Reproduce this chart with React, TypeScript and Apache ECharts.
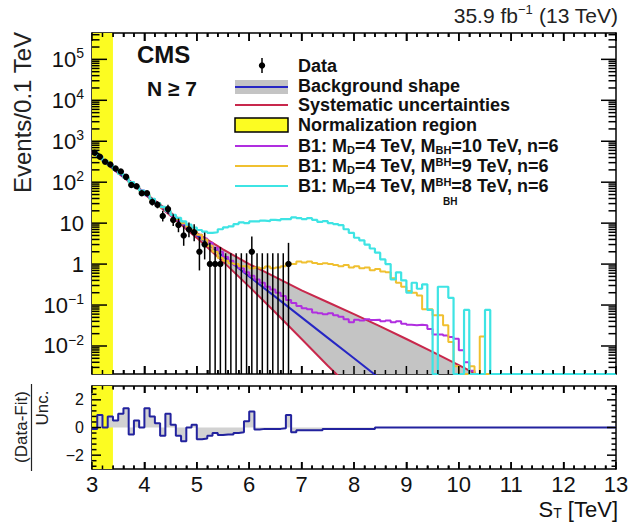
import React, { useEffect, useRef } from "react";
import * as echarts from "echarts";

// ---------- axis ranges / bins ----------
const X_MIN = 3;
const X_MAX = 13;
const Y_MIN = 2.07e-3;
const Y_MAX = 4.4e5;
const BIN_START = 3.0;
const BIN_WIDTH = 0.1;
const NORM_LO = 3.0;
const NORM_HI = 3.4;

const xMajorTicks = [3, 4, 5, 6, 7, 8, 9, 10, 11, 12, 13];
const yMajorTicks = [1e-2, 1e-1, 1, 10, 100, 1e3, 1e4, 1e5];
const ratioMajorTicks = [-2, 0, 2];
const ratioMinorTicks = [-2.8, -2.4, -1.6, -1.2, -0.8, -0.4, 0.4, 0.8, 1.2, 1.6, 2.4, 2.8];

// ---------- data (events per 0.1 TeV bin, bins centred at 3.05 ... 6.75) ----------
const dataCounts = [525, 420, 316, 270, 215, 182, 135, 85, 80, 54, 54, 33, 28, 15, 22, 12, 9, 5, 7, 6, 2, 3, 1, 1, 1, 0, 0, 0, 0, 0, 2, 0, 0, 0, 0, 0, 0, 1];
const dataLow = [502, 400, 298, 254, 200, 169, 123, 76, 71, 47, 47, 27, 23, 11, 17, 8.5, 6, 2.8, 4.5, 3.6, 0.7, 1.3, 0, 0, 0, 0, 0, 0, 0, 0, 0, 0, 0, 0, 0, 0, 0, 0];
const dataHigh = [548, 441, 334, 287, 230, 196, 147, 95, 90, 62, 62, 40, 34, 20, 28, 16.5, 13, 8.4, 10.4, 9.4, 4.6, 5.9, 3.3, 2.6, 2.6, 1.84, 1.84, 1.84, 1.84, 1.84, 4.7, 1.84, 1.84, 1.84, 1.84, 1.84, 1.84, 3.3];

// ---------- background fit and systematic band ----------
const fitX = [3.0, 3.5, 4.0, 4.5, 5.0, 5.5, 6.0, 6.5, 7.0, 7.5, 8.0, 8.5];
const fitY = [562, 174, 53.7, 16.6, 5.1, 1.58, 0.5, 0.158, 0.05, 0.0158, 0.005, 0.00158];
const sysUpX = [3.0, 3.5, 4.0, 4.5, 5.0, 5.5, 6.0, 6.5, 7.0, 7.5, 8.0, 8.5, 9.0, 9.5, 10.0, 10.5];
const sysUp = [575, 182, 56.2, 18.2, 5.75, 2.29, 1.0, 0.479, 0.229, 0.117, 0.06, 0.03, 0.0148, 0.0072, 0.0034, 0.0016];
const sysDownX = [3.0, 3.5, 4.0, 4.5, 5.0, 5.5, 6.0, 6.5, 7.0, 7.5, 8.0];
const sysDown = [550, 166, 51.3, 15.1, 4.37, 1.15, 0.282, 0.066, 0.0148, 0.0033, 0.00079];

// ---------- signal histograms (0.1 TeV bins from 3.0 to 13.0) ----------
const sigM10 = [
  555, 425, 325, 262, 203, 162, 126, 101, 77, 63, 48, 39, 30, 24.5, 19, 15, 12, 9.6, 7.6, 6.2,
  5.2, 4.2, 3.3, 2.5, 2.0, 1.5, 1.2, 0.95, 0.79, 0.63,
  0.52, 0.42, 0.35, 0.28, 0.24, 0.2, 0.166, 0.132, 0.112, 0.095,
  0.083, 0.079, 0.066, 0.063, 0.06, 0.063, 0.056, 0.052, 0.045, 0.038,
  0.044, 0.042, 0.045, 0.043, 0.044, 0.04, 0.042, 0.038, 0.04, 0.035,
  0.033, 0.032, 0.033, 0.032, 0.026, 0.019, 0.019, 0.018, 0.0166, 0.015,
  0.0079, 0.004, 0.0025, 0, 0, 0, 0, 0, 0, 0,
  0, 0, 0, 0, 0, 0, 0, 0, 0, 0,
  0, 0, 0, 0, 0, 0, 0, 0, 0, 0,
];
const sigM9 = [
  545, 415, 335, 258, 208, 158, 130, 98, 79, 61, 50, 38, 31, 24, 19.5, 15.5, 12.5, 10, 8.1, 6.6,
  5.2, 4.0, 2.8, 2.0, 1.41, 1.2, 1.05, 1.0, 0.89, 0.89,
  0.79, 0.83, 0.79, 0.87, 0.79, 0.83, 0.89, 1.05, 1.0, 1.15,
  1.1, 1.15, 1.07, 1.0, 1.05, 1.0, 0.95, 0.89, 0.95, 0.83,
  0.89, 0.79, 0.83, 0.71, 0.76, 0.66, 0.63, 0.45, 0.35, 0.28,
  0.22, 0.2, 0.17, 0.079, 0.079, 0.056, 0.056, 0.032, 0.0126, 0.0032,
  0, 0, 0.0032, 0, 0.017, 0, 0, 0, 0, 0,
  0, 0, 0, 0, 0, 0, 0, 0, 0, 0,
  0, 0, 0, 0, 0, 0, 0, 0, 0, 0,
];
const sigM8 = [
  540, 420, 330, 260, 205, 160, 128, 100, 78, 62, 49, 39, 31, 25, 20, 16, 13.5, 11, 9.2, 7.8,
  6.8, 6.2, 5.8, 6.0, 7.1, 7.9, 8.3, 9.5, 10.5, 10.0,
  11.0, 11.0, 11.5, 11.2, 12.0, 11.7, 12.6, 12.6, 13.8, 13.2,
  12.6, 13.2, 12.0, 10.7, 11.2, 10.0, 9.5, 8.9, 7.1, 5.8,
  4.4, 3.8, 3.0, 2.4, 1.9, 1.3, 1.0, 0.42, 0.63, 0.4,
  0.2, 0.35, 0.25, 0.32, 0.076, 0, 0.28, 0.28, 0.15, 0,
  0, 0.076, 0, 0, 0, 0.076, 0, 0, 0, 0,
  0, 0, 0, 0, 0, 0, 0, 0, 0, 0,
  0, 0, 0, 0, 0, 0, 0, 0, 0, 0,
];

// ---------- (Data-Fit)/Unc. ----------
const ratioEdges = [
  3.0, 3.1, 3.2, 3.3, 3.4, 3.5, 3.6, 3.7, 3.8, 3.9, 4.0, 4.1, 4.2, 4.3, 4.4, 4.5, 4.6, 4.7, 4.8, 4.9,
  5.0, 5.1, 5.2, 5.3, 5.4, 5.5, 5.6, 5.7, 5.8, 5.9, 6.0, 6.1, 6.2, 6.3, 6.4, 6.5, 6.6, 6.7, 6.8, 6.9,
  7.4, 8.4, 13.0,
];
const ratioValues = [
  -0.1, 0.9, 0.0, 0.8, 0.5, 1.0, 1.4, -0.5, 0.5, 0.0, 1.4, 0.8, 0.3, -0.6, 1.0, 0.2, -0.6, -1.0, 0.0, 0.2,
  -0.85, -0.8, -0.6, -0.4, -0.55, -0.5, -0.5, -0.4, -0.35, 0.45, 1.15, -0.15, -0.1, -0.1, -0.1, -0.1, -0.05, 0.9, -0.35,
  -0.2, -0.1, 0.0,
];

// ---------- styling ----------
const FONT = "'Liberation Sans', Arial, Helvetica, sans-serif";
const C_FIT = "#2626c4";
const C_SYS = "#c8284c";
const C_M10 = "#b02ee0";
const C_M9 = "#f0c030";
const C_M8 = "#3ee4e4";
const C_BAND = "#c4c4c4";
const C_NORM = "#fcfc22";
const C_RATIO = "#22229e";
const FRAME_W = 1.5;

const r2 = (v: number) => Math.round(v * 1000) / 1000;

function histPoints(values: number[]) {
  const pts: number[][] = values.map((v, i) => [r2(BIN_START + i * BIN_WIDTH), v > 0 ? v : Y_MIN]);
  const last = values[values.length - 1];
  pts.push([r2(BIN_START + values.length * BIN_WIDTH), last > 0 ? last : Y_MIN]);
  return pts;
}

function yMinorTicks() {
  const out: number[] = [];
  for (let e = -3; e <= 5; e++) {
    for (let k = 2; k <= 9; k++) {
      const v = k * Math.pow(10, e);
      if (v > Y_MIN && v < Y_MAX) out.push(v);
    }
  }
  return out;
}

function xMinorTicks() {
  const out: number[] = [];
  for (let i = 0; i < xMajorTicks.length - 1; i++) {
    for (let k = 1; k < 5; k++) out.push(r2(xMajorTicks[i] + k * 0.2));
  }
  return out;
}

function logLabel(v: number) {
  const e = Math.round(Math.log10(v));
  if (e === 0) return "{b|1}";
  if (e === 1) return "{b|10}";
  const s = e < 0 ? "\u2212" + -e : "" + e;
  return "{b|10}{s|" + s + "}";
}

const black = { color: "#000", width: FRAME_W };

function xAxisDef(grid: number, position: string, labels: boolean) {
  return {
    type: "value",
    gridIndex: grid,
    min: X_MIN,
    max: X_MAX,
    interval: 1,
    position,
    axisLine: { show: true, onZero: false, lineStyle: black },
    axisTick: { show: true, inside: true, length: grid === 0 ? 8 : 7, lineStyle: black },
    minorTick: { show: true, splitNumber: 5, length: grid === 0 ? 4 : 3.5, lineStyle: black },
    splitLine: { show: false },
    axisLabel: labels
      ? { show: true, fontSize: 22, color: "#111", fontFamily: FONT, margin: 4 }
      : { show: false },
  };
}

function yMain(position: string) {
  return {
    type: "log",
    logBase: 10,
    gridIndex: 0,
    min: Y_MIN,
    max: Y_MAX,
    position,
    axisLine: { show: true, onZero: false, lineStyle: black },
    axisTick: { show: false },
    splitLine: { show: false },
    minorTick: { show: false },
    axisLabel:
      position === "left"
        ? {
            show: true,
            customValues: yMajorTicks,
            formatter: (v: number) => logLabel(v),
            margin: 8,
            rich: {
              b: { fontSize: 22, lineHeight: 26, color: "#111", fontFamily: FONT },
              s: { fontSize: 14, lineHeight: 14, verticalAlign: "top", color: "#111", fontFamily: FONT },
            },
          }
        : { show: false },
  };
}

function yRatio(position: string) {
  return {
    type: "value",
    gridIndex: 1,
    min: -3,
    max: 3,
    position,
    axisLine: { show: true, onZero: false, lineStyle: black },
    axisTick: { show: false },
    splitLine: { show: false },
    minorTick: { show: false },
    axisLabel:
      position === "left"
        ? {
            show: true,
            customValues: ratioMajorTicks,
            formatter: (v: number) => (v < 0 ? "\u2212" + -v : "" + v),
            fontSize: 16,
            color: "#111",
            fontFamily: FONT,
            margin: 8,
          }
        : { show: false },
  };
}

// builds the frame tick marks of one panel, each placed through the axis scales
function frameTicks(api: any, cs: any, yMaj: number[], yMin: number[], yLenMaj: number, yLenMin: number, yRef: number, xLenMaj: number, xLenMin: number) {
  const st = { stroke: "#000", lineWidth: FRAME_W };
  const children: any[] = [];
  const left = cs.x;
  const right = cs.x + cs.width;
  const top = cs.y;
  const bottom = cs.y + cs.height;
  const addY = (v: number, len: number) => {
    const y = api.coord([X_MIN, v])[1];
    children.push({ type: "line", shape: { x1: left, y1: y, x2: left + len, y2: y }, style: st });
    children.push({ type: "line", shape: { x1: right - len, y1: y, x2: right, y2: y }, style: st });
  };
  const addX = (x: number, len: number) => {
    const px = api.coord([x, yRef])[0];
    children.push({ type: "line", shape: { x1: px, y1: bottom, x2: px, y2: bottom - len }, style: st });
    children.push({ type: "line", shape: { x1: px, y1: top, x2: px, y2: top + len }, style: st });
  };
  yMaj.forEach((v) => addY(v, yLenMaj));
  yMin.forEach((v) => addY(v, yLenMin));
  xMajorTicks.forEach((x) => addX(x, xLenMaj));
  xMinorTicks().forEach((x) => addX(x, xLenMin));
  return children;
}

function txt(x: number, y: number, text: string, opts: any = {}) {
  return {
    type: "text",
    x,
    y,
    silent: true,
    z: 50,
    rotation: opts.rotation || 0,
    style: {
      text,
      fontSize: opts.fontSize || 18,
      fontWeight: opts.fontWeight || "normal",
      fontFamily: FONT,
      fill: opts.fill || "#111",
      align: opts.align || "left",
      textAlign: opts.align || "left",
      verticalAlign: "middle",
      textVerticalAlign: "middle",
      rich: opts.rich,
    },
  };
}

function legendRich(size: number) {
  const base = { fontSize: size, fontWeight: "bold", fontFamily: FONT, fill: "#111", lineHeight: 19 };
  return {
    n: base,
    d: { fontSize: 11, fontWeight: "bold", fontFamily: FONT, fill: "#111", lineHeight: 11, verticalAlign: "bottom" },
    u: { fontSize: 11, fontWeight: "bold", fontFamily: FONT, fill: "#111", lineHeight: 11, verticalAlign: "top" },
  };
}

function legendLine(y: number, color: string) {
  return {
    type: "line",
    silent: true,
    z: 50,
    shape: { x1: 235, y1: y, x2: 288, y2: y },
    style: { stroke: color, lineWidth: 2 },
  };
}

function buildGraphic() {
  const lr = legendRich(18);
  return [
    txt(618, 15, "{n|35.9 fb}{s|\u22121}{n| (13 TeV)}", {
      align: "right",
      rich: {
        n: { fontSize: 21, lineHeight: 24, fontFamily: FONT, fill: "#222" },
        s: { fontSize: 13, lineHeight: 13, verticalAlign: "top", fontFamily: FONT, fill: "#222" },
      },
    }),
    txt(137, 54, "CMS", { fontSize: 24, fontWeight: "bold" }),
    txt(147, 88, "N \u2265 7", { fontSize: 21, fontWeight: "bold" }),
    txt(22, 32, "Events/0.1 TeV", { fontSize: 24, align: "right", rotation: Math.PI / 2, fill: "#222" }),
    txt(21, 427, "(Data-Fit)", { fontSize: 17, align: "center", rotation: Math.PI / 2, fill: "#222" }),
    txt(42, 408, "Unc.", { fontSize: 17, align: "center", rotation: Math.PI / 2, fill: "#222" }),
    {
      type: "line",
      silent: true,
      z: 50,
      shape: { x1: 31.5, y1: 384, x2: 31.5, y2: 471 },
      style: { stroke: "#222", lineWidth: 1.2 },
    },
    txt(618, 509, "{n|S}{d|T}{n| [TeV]}", {
      align: "right",
      rich: {
        n: { fontSize: 22, lineHeight: 22, fontFamily: FONT, fill: "#111" },
        d: { fontSize: 14, lineHeight: 14, verticalAlign: "bottom", fontFamily: FONT, fill: "#111" },
      },
    }),
    { type: "line", silent: true, z: 50, shape: { x1: 262, y1: 58, x2: 262, y2: 73 }, style: { stroke: "#000", lineWidth: 1.5 } },
    { type: "circle", silent: true, z: 50, shape: { cx: 262, cy: 65.5, r: 3.2 }, style: { fill: "#000" } },
    txt(298, 66, "Data", { fontWeight: "bold" }),
    { type: "rect", silent: true, z: 50, shape: { x: 235, y: 80, width: 53, height: 14 }, style: { fill: C_BAND } },
    legendLine(87, C_FIT),
    txt(298, 86, "Background shape", { fontWeight: "bold" }),
    legendLine(105, C_SYS),
    txt(298, 105, "Systematic uncertainties", { fontWeight: "bold" }),
    { type: "rect", silent: true, z: 50, shape: { x: 235, y: 118, width: 53, height: 14 }, style: { fill: C_NORM, stroke: "#000", lineWidth: 1.5 } },
    txt(298, 125, "Normalization region", { fontWeight: "bold" }),
    legendLine(146, C_M10),
    txt(298, 146, "{n|B1: M}{d|D}{n|=4 TeV, M}{d|BH}{n|=10 TeV, n=6}", { rich: lr }),
    legendLine(166, C_M9),
    txt(298, 166, "{n|B1: M}{d|D}{n|=4 TeV, M}{u|BH}{n|=9 TeV, n=6}", { rich: lr }),
    legendLine(186, C_M8),
    txt(298, 186, "{n|B1: M}{d|D}{n|=4 TeV, M}{u|BH}{n|=8 TeV, n=6}", { rich: lr }),
    txt(443, 201, "BH", { fontSize: 10, fontWeight: "bold" }),
  ];
}

function buildOption() {
  const dataItems = dataCounts.map((n, i) => [r2(BIN_START + (i + 0.5) * BIN_WIDTH), n, dataLow[i], dataHigh[i]]);
  const ratioPts = ratioValues.map((v, i) => [ratioEdges[i], v]);
  ratioPts.push([ratioEdges[ratioEdges.length - 1], ratioValues[ratioValues.length - 1]]);
  const yMinor = yMinorTicks();

  const histSeries = (values: number[], color: string, z: number, width: number) => ({
    type: "line",
    xAxisIndex: 0,
    yAxisIndex: 0,
    step: "end",
    data: histPoints(values),
    showSymbol: false,
    symbol: "none",
    clip: true,
    z,
    lineStyle: { color, width },
  });

  return {
    animation: false,
    backgroundColor: "#fff",
    grid: [
      { left: 92, top: 33, width: 524, height: 341 },
      { left: 92, top: 386, width: 524, height: 83 },
    ],
    xAxis: [xAxisDef(0, "bottom", false), xAxisDef(0, "top", false), xAxisDef(1, "bottom", true), xAxisDef(1, "top", false)],
    yAxis: [yMain("left"), yMain("right"), yRatio("left"), yRatio("right")],
    series: [
      {
        type: "custom",
        xAxisIndex: 0,
        yAxisIndex: 0,
        clip: true,
        z: 2,
        data: [[sysUpX[0], sysUp[0]]],
        encode: { x: 0, y: 1 },
        renderItem: (params: any, api: any) => {
          if (params.dataIndex !== 0) return null;
          const pts: number[][] = sysUpX.map((x, i) => api.coord([x, sysUp[i]]));
          for (let i = sysDownX.length - 1; i >= 0; i--) pts.push(api.coord([sysDownX[i], sysDown[i]]));
          return { type: "polygon", shape: { points: pts }, style: { fill: C_BAND } };
        },
        markArea: {
          silent: true,
          itemStyle: { color: C_NORM, opacity: 1 },
          data: [[{ xAxis: NORM_LO }, { xAxis: NORM_HI }]],
        },
      },
      {
        type: "line",
        xAxisIndex: 0,
        yAxisIndex: 0,
        data: sysUpX.map((x, i) => [x, sysUp[i]]),
        showSymbol: false,
        symbol: "none",
        z: 3,
        lineStyle: { color: C_SYS, width: 2 },
      },
      {
        type: "line",
        xAxisIndex: 0,
        yAxisIndex: 0,
        data: sysDownX.map((x, i) => [x, sysDown[i]]),
        showSymbol: false,
        symbol: "none",
        z: 3,
        lineStyle: { color: C_SYS, width: 2 },
      },
      {
        type: "line",
        xAxisIndex: 0,
        yAxisIndex: 0,
        data: fitX.map((x, i) => [x, fitY[i]]),
        showSymbol: false,
        symbol: "none",
        z: 4,
        lineStyle: { color: C_FIT, width: 2 },
      },
      histSeries(sigM10, C_M10, 5, 2),
      histSeries(sigM9, C_M9, 6, 2),
      histSeries(sigM8, C_M8, 7, 2.2),
      {
        type: "custom",
        xAxisIndex: 0,
        yAxisIndex: 0,
        clip: true,
        z: 10,
        data: dataItems,
        encode: { x: 0, y: 3 },
        renderItem: (params: any, api: any) => {
          const x = api.value(0) as number;
          const n = api.value(1) as number;
          const lo = api.value(2) as number;
          const hi = api.value(3) as number;
          const cs = params.coordSys;
          const bottom = cs.y + cs.height;
          const top = api.coord([x, hi]);
          const yLo = lo > 0 ? api.coord([x, lo])[1] : bottom;
          const st = { stroke: "#000", lineWidth: 1.5 };
          const children: any[] = [{ type: "line", shape: { x1: top[0], y1: yLo, x2: top[0], y2: top[1] }, style: st }];
          if (n > 0) {
            const c = api.coord([x, n]);
            const l = api.coord([x - BIN_WIDTH / 2, n]);
            const r = api.coord([x + BIN_WIDTH / 2, n]);
            children.push({ type: "line", shape: { x1: l[0], y1: c[1], x2: r[0], y2: c[1] }, style: st });
            children.push({ type: "circle", shape: { cx: c[0], cy: c[1], r: 3.2 }, style: { fill: "#000" } });
          }
          if (params.dataIndex === 0) {
            frameTicks(api, cs, yMajorTicks, yMinor, 15, 7.5, 1, 8, 4).forEach((c) => children.push(c));
          }
          return { type: "group", children };
        },
      },
      {
        type: "line",
        xAxisIndex: 2,
        yAxisIndex: 2,
        step: "end",
        data: ratioPts,
        showSymbol: false,
        symbol: "none",
        z: 5,
        lineStyle: { color: C_RATIO, width: 2 },
        areaStyle: { color: "#d2d2d2", opacity: 1, origin: "auto" },
        markArea: {
          silent: true,
          itemStyle: { color: C_NORM, opacity: 1 },
          data: [[{ xAxis: NORM_LO }, { xAxis: NORM_HI }]],
        },
      },
      {
        type: "custom",
        xAxisIndex: 2,
        yAxisIndex: 2,
        clip: true,
        z: 10,
        data: [[ratioEdges[0] + BIN_WIDTH / 2, ratioValues[0]]],
        encode: { x: 0, y: 1 },
        renderItem: (params: any, api: any) => {
          if (params.dataIndex !== 0) return null;
          return { type: "group", children: frameTicks(api, params.coordSys, ratioMajorTicks, ratioMinorTicks, 9, 4.5, 0, 7, 3.5) };
        },
      },
    ],
    graphic: buildGraphic(),
  };
}

export default function App() {
  const ref = useRef<HTMLDivElement>(null);
  useEffect(() => {
    if (!ref.current) return;
    const chart = echarts.init(ref.current, undefined, { renderer: "svg" });
    chart.setOption(buildOption() as any);
    return () => chart.dispose();
  }, []);
  return (
    <div
      ref={ref}
      style={{ position: "absolute", left: 0, top: 0, width: 633, height: 522, background: "#fff" }}
    />
  );
}
